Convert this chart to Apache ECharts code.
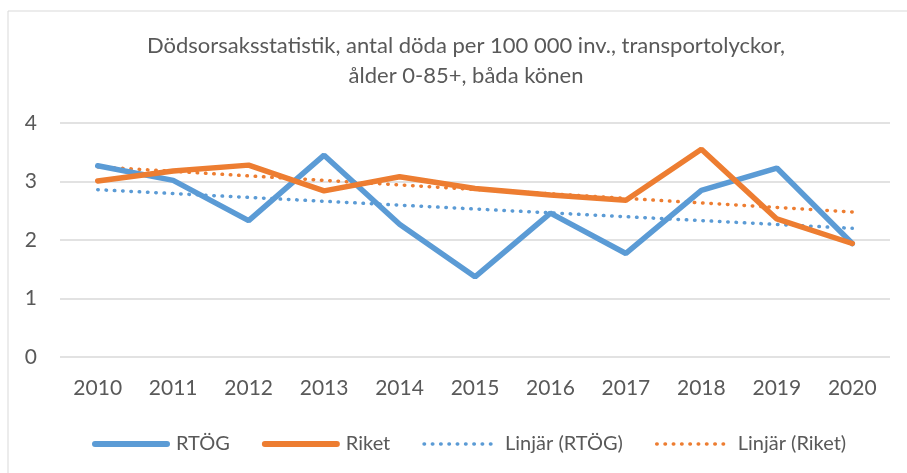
<!DOCTYPE html>
<html><head><meta charset="utf-8">
<script src="https://cdn.jsdelivr.net/npm/echarts@6/dist/echarts.min.js"></script>
<style>html,body{margin:0;padding:0;background:#fff}#c{width:907px;height:473px}</style>
</head><body><div id="c"></div>
<script>
const years = ['2010','2011','2012','2013','2014','2015','2016','2017','2018','2019','2020'];
const rtog  = [3.27, 3.02, 2.33, 3.45, 2.27, 1.37, 2.46, 1.77, 2.85, 3.23, 1.94];
const riket = [3.01, 3.18, 3.28, 2.84, 3.08, 2.88, 2.77, 2.68, 3.55, 2.36, 1.94];
const trendRtog  = [2.86, null, null, null, null, null, null, null, null, null, 2.20];
const trendRiket = [3.25, null, null, null, null, null, null, null, null, null, 2.48];
const yTicks = [0, 1, 2, 3, 4];

const FONT = 'Lato';
const TXT = '#595959';
const BLUE = '#5B9BD5', ORANGE = '#ED7D31';
const chart = echarts.init(document.getElementById('c'));
const dotStyle = c => ({color: c, width: 3.5, type: [0.5, 7.8], cap: 'round'});
chart.setOption({
  animation: false,
  textStyle: {fontFamily: FONT},
  graphic: [{type: 'rect', shape: {x: 8, y: 11, width: 1000, height: 1000}, style: {fill: 'none', stroke: '#d9d9d9', lineWidth: 1}, silent: true}],
  title: {
    text: 'Dödsorsaksstatistik, antal döda per 100 000 inv., transportolyckor,\nålder 0-85+, båda könen',
    left: 461, top: 26, textAlign: 'center',
    textStyle: {fontFamily: FONT, fontSize: 22, fontWeight: 'normal', color: TXT, lineHeight: 30}
  },
  legend: {
    top: 429, left: 87,
    itemWidth: 72, itemHeight: 16, itemGap: 32,
    itemStyle: {opacity: 0},
    textStyle: {fontFamily: FONT, fontSize: 20, color: TXT, padding: [0, 0, 0, 4]},
    data: [
      {name: 'RTÖG', lineStyle: {width: 6, cap: 'round'}},
      {name: 'Riket', lineStyle: {width: 6, cap: 'round'}},
      {name: 'Linjär (RTÖG)', lineStyle: {width: 3.5}},
      {name: 'Linjär (Riket)', lineStyle: {width: 3.5}}
    ]
  },
  grid: {left: 60, right: 17, top: 123, bottom: 116},
  xAxis: {
    type: 'category', data: years, boundaryGap: true,
    axisLine: {show: false}, axisTick: {show: false},
    axisLabel: {fontFamily: FONT, fontSize: 21, color: TXT, margin: 21}
  },
  yAxis: {
    type: 'value', min: yTicks[0], max: yTicks[yTicks.length - 1], interval: 1,
    axisLine: {show: false}, axisTick: {show: false},
    axisLabel: {fontFamily: FONT, fontSize: 21, color: TXT, margin: 23},
    splitLine: {lineStyle: {color: '#d9d9d9', width: 1.5}}
  },
  series: [
    {name: 'Linjär (RTÖG)', type: 'line', data: trendRtog, connectNulls: true, symbol: 'none', lineStyle: dotStyle(BLUE), itemStyle: {color: BLUE}, z: 1},
    {name: 'Linjär (Riket)', type: 'line', data: trendRiket, connectNulls: true, symbol: 'none', lineStyle: dotStyle(ORANGE), itemStyle: {color: ORANGE}, z: 1},
    {name: 'RTÖG', type: 'line', data: rtog, symbol: 'none', lineStyle: {color: BLUE, width: 5.5, cap: 'round'}, itemStyle: {color: BLUE}, z: 3},
    {name: 'Riket', type: 'line', data: riket, symbol: 'none', lineStyle: {color: ORANGE, width: 5.5, cap: 'round'}, itemStyle: {color: ORANGE}, z: 4}
  ]
});
</script></body></html>
